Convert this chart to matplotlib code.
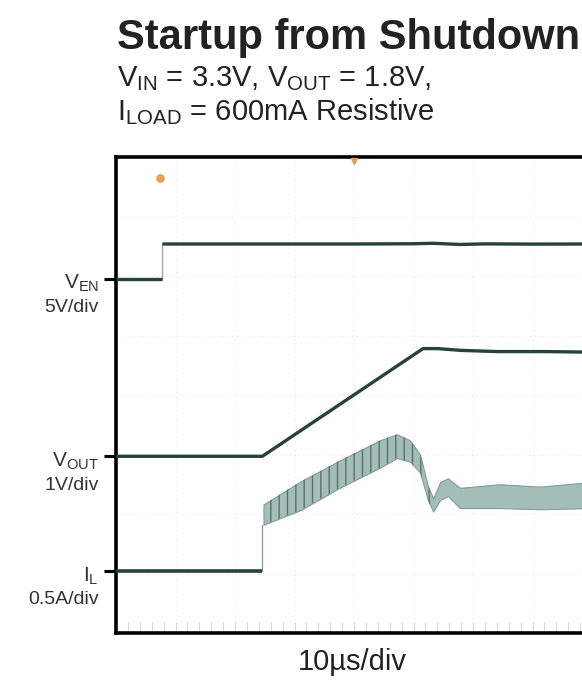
import numpy as np
import matplotlib
matplotlib.use("Agg")
import matplotlib.pyplot as plt

plt.rcParams['font.family'] = ['Liberation Sans', 'DejaVu Sans']
plt.rcParams['mathtext.fontset'] = 'custom'
plt.rcParams['mathtext.rm'] = 'Liberation Sans'
plt.rcParams['mathtext.it'] = 'Liberation Sans:italic'
plt.rcParams['mathtext.bf'] = 'Liberation Sans:bold'
plt.rcParams['hatch.linewidth'] = 1.0

# ---- data read off the scope shot (time in us) ----
# enable pin, volts
en_t = [0, 7.8, 7.8, 30, 40, 50, 53.3, 57.8, 62, 70, 80]
en_v = [0, 0, 2.94, 2.94, 2.94, 2.96, 3.00, 2.90, 2.95, 2.93, 2.94]

# output voltage, volts
out_t = [0, 24.6, 51.6, 54, 58, 64, 72, 80]
out_v = [0, 0, 1.81, 1.81, 1.78, 1.76, 1.76, 1.75]

# inductor current, amps (flat part before switching starts)
il_t = [0, 24.6]
il_a = [0, 0]
# inductor current ripple band, upper / lower envelope
band_t = [24.8, 30.9, 37.6, 44.4, 47.2, 49.4, 51.1, 52.4, 53.3, 54.5, 55.8, 57.8, 64.5, 71.3, 80]
band_hi = [0.56, 0.75, 0.93, 1.10, 1.15, 1.10, 0.98, 0.72, 0.61, 0.75, 0.78, 0.70, 0.73, 0.71, 0.75]
band_lo = [0.39, 0.51, 0.70, 0.87, 0.95, 0.92, 0.83, 0.60, 0.50, 0.60, 0.63, 0.53, 0.53, 0.52, 0.53]

# ---- screen layout: 8 x 8 divisions ----
EN_ZERO, EN_SCALE = 5.95, 5.0      # 5V/div
OUT_ZERO, OUT_SCALE = 2.97, 1.0    # 1V/div
IL_ZERO, IL_SCALE = 1.04, 0.5      # 0.5A/div
TRACE = '#26423a'
TEXT = '#222222'

W, H = 582, 681
fig = plt.figure(figsize=(W / 100, H / 100), dpi=100)
ax = fig.add_axes([116 / W, 1 - 633 / H, 476 / W, 476 / H])
ax.set_xlim(0, 80)
ax.set_ylim(0, 8)

# faint scope graticule
for x in range(10, 80, 10):
    ax.axvline(x, color='#e6eaea', lw=0.8, ls=(0, (1, 3)), zorder=0)
for y in range(1, 8):
    ax.axhline(y, color='#e6eaea', lw=0.8, ls=(0, (1, 3)), zorder=0)

en_div = EN_ZERO + np.array(en_v) / EN_SCALE
out_div = OUT_ZERO + np.array(out_v) / OUT_SCALE
il_div = IL_ZERO + np.array(il_a) / IL_SCALE
hi_div = IL_ZERO + np.array(band_hi) / IL_SCALE
lo_div = IL_ZERO + np.array(band_lo) / IL_SCALE

# enable: thick levels, faint fast edge
ax.plot(en_t[:2], en_div[:2], color=TRACE, lw=2.4, solid_capstyle='butt', zorder=3)
ax.plot(en_t[1:3], en_div[1:3], color='#9aa8a5', lw=1.0, zorder=2)
ax.plot(en_t[2:], en_div[2:], color=TRACE, lw=2.4, solid_capstyle='butt', zorder=3)
ax.plot(out_t, out_div, color=TRACE, lw=2.4, solid_capstyle='butt', zorder=3)
ax.plot(il_t, il_div, color=TRACE, lw=2.6, solid_capstyle='butt', zorder=3)
# thin vertical edge where switching begins
ax.plot([il_t[-1], il_t[-1]], [IL_ZERO, lo_div[0]], color='#8a9996', lw=0.9, zorder=2)

# ripple band: light fill plus vertical hatch for the switching teeth
ax.fill_between(band_t, lo_div, hi_div, facecolor='#a3bdb8', edgecolor='#839c98',
                lw=0.8, zorder=2)
ramp = np.array(band_t) <= 53.3
ax.fill_between(np.array(band_t)[ramp], lo_div[ramp], hi_div[ramp], facecolor='none',
                edgecolor='#5f6f6d', hatch='||', lw=0, zorder=2)

# trigger markers
ax.plot([7.4], [7.65], marker='o', ms=5, color='#f2a25a', mec='#e8904a', zorder=4)
ax.plot([40], [7.93], marker='v', ms=4, color='#d9a060', clip_on=False, zorder=5)
ax.plot([79.6], [6.24], marker='o', ms=5, color='#3a4aa8', clip_on=False, zorder=5)

# frame
for side in ['left', 'bottom', 'top']:
    ax.spines[side].set_linewidth(2.6)
    ax.spines[side].set_color('black')
ax.spines['right'].set_visible(False)

# ground markers on the left edge
ax.set_yticks([EN_ZERO, OUT_ZERO, IL_ZERO])
ax.set_yticklabels([])
ax.tick_params(axis='y', direction='out', length=9, width=2.2, color='black')
ax.set_xticks(np.arange(2, 80, 2))
ax.set_xticklabels([])
ax.tick_params(axis='x', direction='in', length=8, width=0.8, color='#d8d8d8')

# channel labels
tr = ax.get_yaxis_transform()
labels = [(r'V$_{\mathrm{EN}}$', '5V/div', EN_ZERO),
          (r'V$_{\mathrm{OUT}}$', '1V/div', OUT_ZERO),
          (r'I$_{\mathrm{L}}$', '0.5A/div', IL_ZERO)]
for name, scale, y0 in labels:
    ax.text(-0.036, y0 - 0.17, name, transform=tr, ha='right', va='baseline',
            fontsize=15, color='#333333')
    ax.text(-0.036, y0 - 0.56, scale, transform=tr, ha='right', va='baseline',
            fontsize=14, color='#333333')

# title block
fig.text(117 / W, 1 - 49 / H, 'Startup from Shutdown', fontsize=30,
         fontweight='bold', color=TEXT, va='baseline')
fig.text(117 / W, 1 - 86 / H, r'V$_{\mathrm{IN}}$ = 3.3V, V$_{\mathrm{OUT}}$ = 1.8V,',
         fontsize=21, color=TEXT, va='baseline')
fig.text(117 / W, 1 - 120 / H, r'I$_{\mathrm{LOAD}}$ = 600mA Resistive',
         fontsize=21, color=TEXT, va='baseline')
fig.text(352 / W, 1 - 670 / H, '10µs/div', fontsize=21, color=TEXT,
         ha='center', va='baseline')

fig.savefig('out.png', dpi=100)
